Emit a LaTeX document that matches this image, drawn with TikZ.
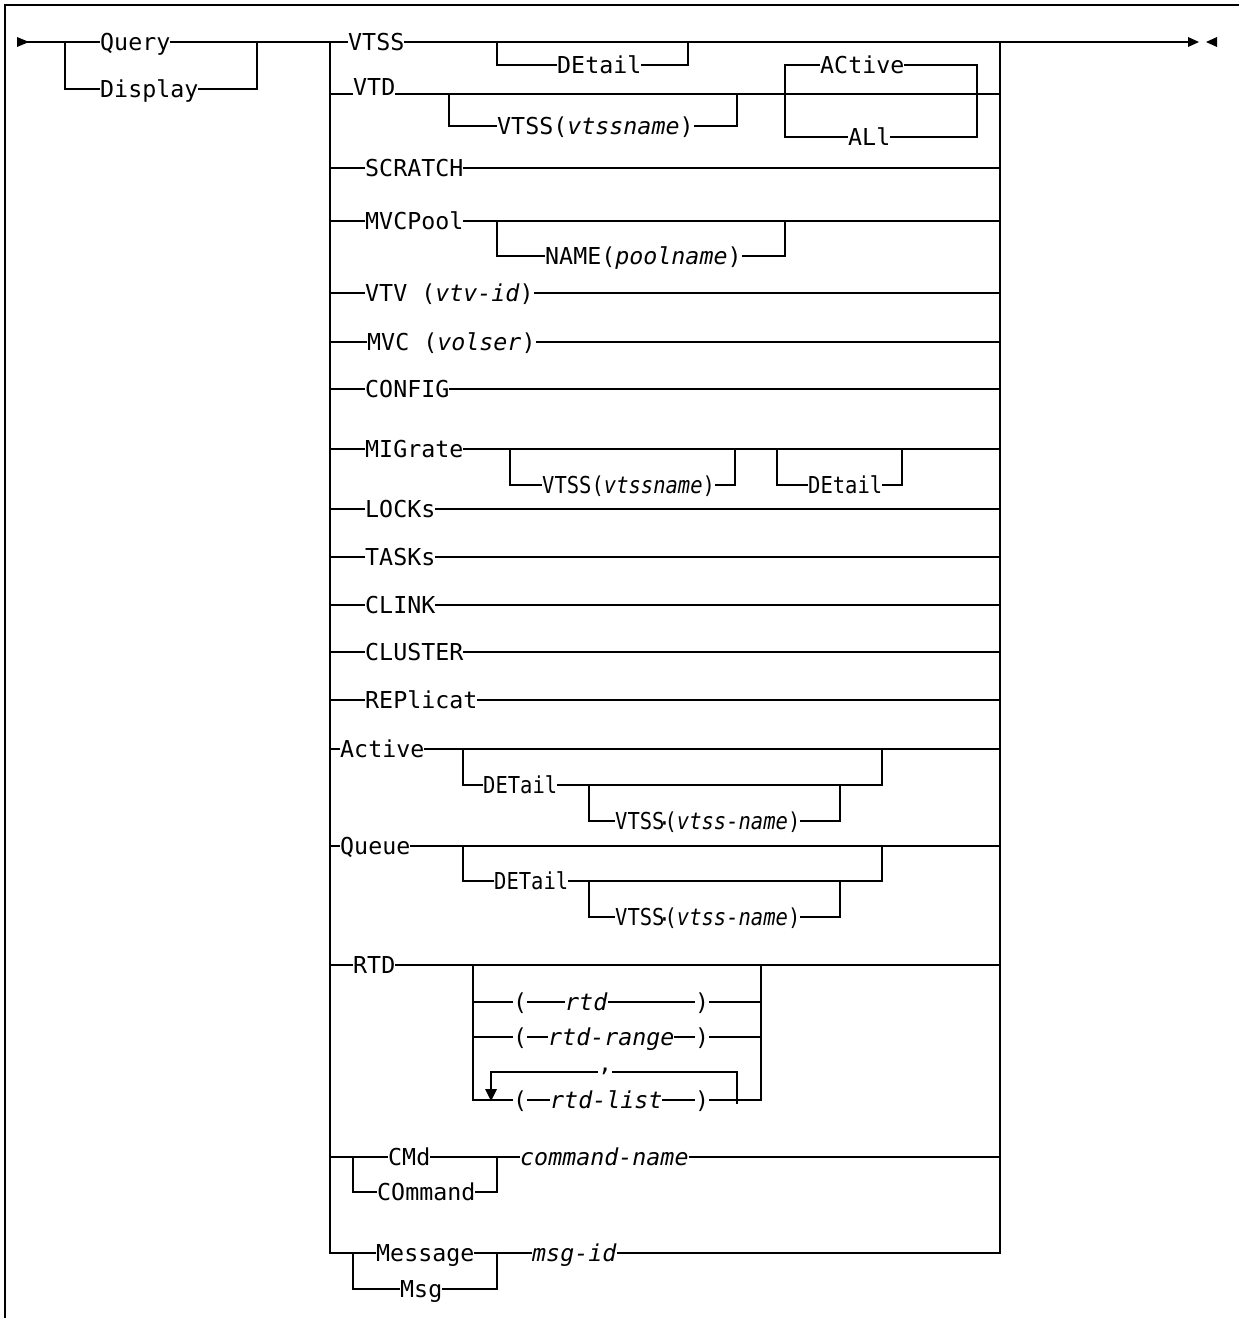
\documentclass[tikz,border=0pt]{standalone}
\usepackage{fontspec}
\usepackage{graphicx}
\newfontfamily\rrfont{DejaVu Sans Mono}[ItalicFont={DejaVu Sans Mono Oblique}]
\newcommand{\cnd}[1]{\scalebox{0.88}[1]{#1}}
\newcommand{\vdot}{\makebox[0pt][c]{\raisebox{-0.15ex}{·}}}
\begin{document}
\begin{tikzpicture}[x=1bp,y=-1bp,
  rail/.style={line width=2.2bp},
  frame/.style={line width=2.8bp},
  lbl/.style={anchor=base west, inner sep=0pt, fill=white,
    font=\rrfont\fontsize{23.3bp}{28bp}\selectfont}]
\useasboundingbox (0,0) rectangle (1239,1318);
% frame
\draw[frame] (5,1318) -- (5,5) -- (1239,5);
% main rails
\draw[rail] (17,42) -- (1189,42);
\fill (17,37) -- (29,42) -- (17,47) -- cycle;
\fill (1188,37) -- (1199,42) -- (1188,47) -- cycle;
\fill (1217,37) -- (1206,42) -- (1217,47) -- cycle;
\draw[rail] (65,42) -- (65,89) -- (257,89) -- (257,42);
\draw[rail] (330,42) -- (330,1253) -- (1000,1253) -- (1000,42);
% VTSS
\draw[rail] (497,42) -- (497,65) -- (688,65) -- (688,42);
% VTD
\draw[rail] (330,94) -- (1000,94);
\draw[rail] (449,94) -- (449,126) -- (737,126) -- (737,94);
\draw[rail] (785,65) rectangle (977,137);
% simple rows
\foreach \yy in {168,221,293,342,389,449,509,557,605,652,700,749,846,965,1157}
  \draw[rail] (330,\yy) -- (1000,\yy);
% MVCPool
\draw[rail] (497,221) -- (497,256) -- (785,256) -- (785,221);
% MIGrate
\draw[rail] (510,449) -- (510,485) -- (735,485) -- (735,449);
\draw[rail] (777,449) -- (777,485) -- (902,485) -- (902,449);
% Active
\draw[rail] (463,749) -- (463,785) -- (882,785) -- (882,749);
\draw[rail] (589,785) -- (589,821) -- (840,821) -- (840,785);
% Queue
\draw[rail] (463,846) -- (463,881) -- (882,881) -- (882,846);
\draw[rail] (589,881) -- (589,917) -- (840,917) -- (840,881);
% RTD
\draw[rail] (473,965) -- (473,1100) -- (761,1100) -- (761,965);
\draw[rail] (473,1002) -- (761,1002);
\draw[rail] (473,1037) -- (761,1037);
\draw[rail] (737,1104) -- (737,1072) -- (491,1072) -- (491,1090);
\fill (485,1089) -- (497,1089) -- (491,1101) -- cycle;
% CMd / Message
\draw[rail] (353,1157) -- (353,1192) -- (497,1192) -- (497,1157);
\draw[rail] (353,1253) -- (353,1289) -- (497,1289) -- (497,1253);

% labels
\node[lbl] (query) at (100,50.5) {Query};
\node[lbl] (display) at (100,97.5) {Display};
\node[lbl] (vtss) at (348,50.5) {VTSS};
\node[lbl] (detail1) at (557,73.5) {DEtail};
\node[lbl] (vtd) at (353,96) {VTD};
\node[lbl] (vtssn1) at (497,134.5) {VTSS(\textit{vtssname})};
\node[lbl] (active1) at (820,73.5) {ACtive};
\node[lbl] (all) at (848,145.5) {ALl};
\node[lbl] (scratch) at (365,176.5) {SCRATCH};
\node[lbl] (mvcpool) at (365,229.5) {MVCPool};
\node[lbl] (name) at (545,264.5) {NAME(\textit{poolname})};
\node[lbl] (vtv) at (365,301.5) {VTV (\textit{vtv-id})};
\node[lbl] (mvc) at (367,350.5) {MVC (\textit{volser})};
\node[lbl] (config) at (365,397.5) {CONFIG};
\node[lbl] (migrate) at (365,457.5) {MIGrate};
\node[lbl] (vtssn2) at (542,493.5) {\cnd{VTSS(\textit{vtssname})}};
\node[lbl] (detail2) at (808,493.5) {\cnd{DEtail}};
\node[lbl] (locks) at (365,517.5) {LOCKs};
\node[lbl] (tasks) at (365,565.5) {TASKs};
\node[lbl] (clink) at (365,613.5) {CLINK};
\node[lbl] (cluster) at (365,660.5) {CLUSTER};
\node[lbl] (replicat) at (365,708.5) {REPlicat};
\node[lbl] (active2) at (340,757.5) {Active};
\node[lbl] (detail3) at (483,793.5) {\cnd{DETail}};
\node[lbl] (vtssn3) at (615,829.5) {\cnd{VTSS\vdot(\textit{vtss-name})}};
\node[lbl] (queue) at (340,854.5) {Queue};
\node[lbl] (detail4) at (494,889.5) {\cnd{DETail}};
\node[lbl] (vtssn4) at (615,925.5) {\cnd{VTSS\vdot(\textit{vtss-name})}};
\node[lbl] (rtd) at (353,973.5) {RTD};
\node[lbl] (lp1) at (513,1010.5) {(};
\node[lbl] (rtd1) at (565,1010.5) {\textit{rtd}};
\node[lbl] (rp1) at (695,1010.5) {)};
\node[lbl] (lp2) at (513,1045.5) {(};
\node[lbl] (rtd2) at (548,1045.5) {\textit{rtd-range}};
\node[lbl] (rp2) at (695,1045.5) {)};
\node[lbl] (comma) at (598,1071) {,};
\node[lbl] (lp3) at (513,1108.5) {(};
\node[lbl] (rtd3) at (550,1108.5) {\textit{rtd-list}};
\node[lbl] (rp3) at (695,1108.5) {)};
\node[lbl] (cmd) at (388,1165.5) {CMd};
\node[lbl] (command) at (377,1200.5) {COmmand};
\node[lbl] (cmdname) at (520,1165.5) {\textit{command-name}};
\node[lbl] (message) at (376,1261.5) {Message};
\node[lbl] (msg) at (400,1297.5) {Msg};
\node[lbl] (msgid) at (532,1261.5) {\textit{msg-id}};
\end{tikzpicture}
\end{document}
